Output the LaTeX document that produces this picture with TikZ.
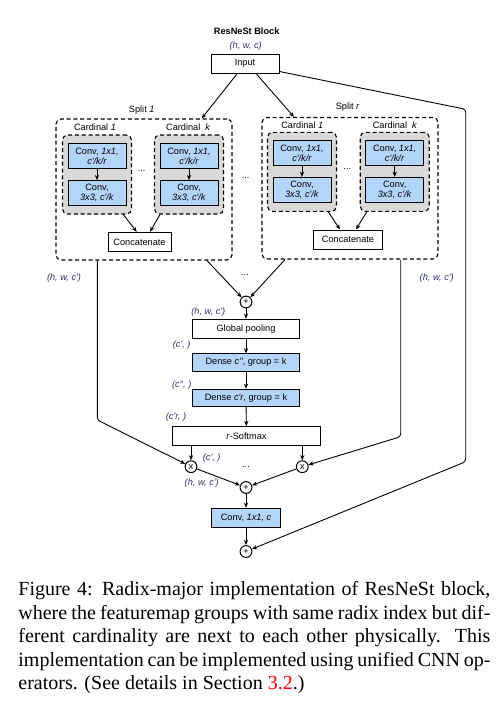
\documentclass[tikz,border=0pt]{standalone}
\usepackage{fontspec}
\setmainfont{Liberation Serif}
\newfontfamily\diagfont{Liberation Sans}
\usetikzlibrary{arrows.meta,calc}
\definecolor{convblue}{HTML}{B4D5FA}
\definecolor{cardgray}{HTML}{D9D9D9}
\definecolor{dimblue}{HTML}{283374}
\definecolor{refred}{HTML}{FF0000}
\newcommand\dgmfont{\diagfont\fontsize{4.6}{5}\selectfont}

\begin{document}
\begin{tikzpicture}[x=0.5pt,y=-0.5pt,
  every node/.style={font=\dgmfont, inner sep=0pt},
  opbox/.style={draw, line width=0.5pt, fill=white, align=center},
  convbox/.style={opbox, fill=convblue},
  cardbox/.style={draw, line width=0.55pt, dash pattern=on 2pt off 1.4pt,
                  fill=cardgray, rounded corners=2.5pt},
  splitbox/.style={draw, line width=0.55pt, dash pattern=on 2pt off 1.4pt,
                   rounded corners=2.5pt},
  opcirc/.style={circle, draw, line width=0.5pt, minimum size=5.9pt, fill=white},
  dimlabel/.style={text=dimblue, font=\dgmfont\itshape},
  link/.style={line width=0.45pt, -{Stealth[length=2.6pt,width=2.1pt]}},
  wire/.style={line width=0.45pt, rounded corners=1.5pt},
]
\fill[white] (0,0) rectangle (501,702);
\useasboundingbox (0,0) rectangle (501,702);

% ---------- title and input ----------
\node[font=\dgmfont\bfseries] (title) at (246.7,31) {ResNeSt Block};
\node[dimlabel] (inshape) at (245.7,46) {(h, w, c)};
\node[opbox, minimum width=34pt, minimum height=9.5pt] (input) at (245,63.5) {Input};

% ---------- split 1 ----------
\node[splitbox, minimum width=88pt, minimum height=70.5pt] (split1) at (144,189.5) {};
\node (split1lbl) at (141.7,110) {Split \textit{1}};
\node (c1Llbl) at (95,127.7) {Cardinal \textit{1}};
\node (ckLlbl) at (188.3,127.7) {Cardinal\ \ \textit{k}};
\node[cardbox, minimum width=34.5pt, minimum height=39.5pt] (c1L) at (97,174.5) {};
\node[cardbox, minimum width=34.5pt, minimum height=39.5pt] (ckL) at (189,174.5) {};
\node[convbox, minimum width=29pt, minimum height=12.6pt] (a1L) at (97,156.3) {Conv, \textit{1x1,}\\\textit{c'/k/r}};
\node[convbox, minimum width=29pt, minimum height=12.6pt] (b1L) at (97,193.3) {Conv,\\\textit{3x3, c'/k}};
\node[convbox, minimum width=29pt, minimum height=12.6pt] (akL) at (189,156.3) {Conv, \textit{1x1,}\\\textit{c'/k/r}};
\node[convbox, minimum width=29pt, minimum height=12.6pt] (bkL) at (189,193.3) {Conv,\\\textit{3x3, c'/k}};
\node (dotsL) at (141.7,171) {...};
\node[opbox, minimum width=31.5pt, minimum height=9.7pt] (concatL) at (139.5,242) {Concatenate};

% ---------- split r ----------
\node[splitbox, minimum width=88pt, minimum height=70.75pt] (splitR) at (350,188.25) {};
\node (splitRlbl) at (347.7,107.3) {Split \textit{r}};
\node (c1Rlbl) at (302.3,125) {Cardinal \textit{1}};
\node (ckRlbl) at (395,125) {Cardinal\ \ \textit{k}};
\node[cardbox, minimum width=34.5pt, minimum height=39.5pt] (c1R) at (302,171.8) {};
\node[cardbox, minimum width=34.5pt, minimum height=39.5pt] (ckR) at (394.7,171.8) {};
\node[convbox, minimum width=29pt, minimum height=12.6pt] (a1R) at (302,153.3) {Conv, \textit{1x1,}\\\textit{c'/k/r}};
\node[convbox, minimum width=29pt, minimum height=12.6pt] (b1R) at (302,190) {Conv,\\\textit{3x3, c'/k}};
\node[convbox, minimum width=29pt, minimum height=12.6pt] (akR) at (394.7,153.3) {Conv, \textit{1x1,}\\\textit{c'/k/r}};
\node[convbox, minimum width=29pt, minimum height=12.6pt] (bkR) at (394.7,190) {Conv,\\\textit{3x3, c'/k}};
\node (dotsR) at (347.3,169) {...};
\node[opbox, minimum width=34.7pt, minimum height=9.7pt] (concatR) at (348,239.7) {Concatenate};

\node (dotsSplit) at (245.7,178) {...};

% ---------- attention path ----------
\node[opcirc] (plus1) at (246,302) {+};
\node (dotsSum) at (245,275) {...};
\node[dimlabel] (shpL) at (64,277.7) {(h, w, c')};
\node[dimlabel] (shpR) at (436.7,278.3) {(h, w, c')};
\node[dimlabel] (shpPool) at (208.3,311.7) {(h, w, c')};
\node[opbox, minimum width=53.5pt, minimum height=9.5pt] (pool) at (246,328.8) {Global pooling};
\node[dimlabel] (shpD1) at (181.7,345) {(c', )};
\node[convbox, minimum width=53.5pt, minimum height=8.6pt] (dense1) at (246,362.5) {Dense \textit{c''}, group = k};
\node[dimlabel] (shpD2) at (181.7,385) {(c'', )};
\node[convbox, minimum width=53.5pt, minimum height=8.7pt] (dense2) at (246,398) {Dense \textit{c'r}, group = k};
\node[dimlabel] (shpSm) at (176,417.5) {(c'r, )};
\node[opbox, minimum width=74.2pt, minimum height=9.65pt] (softmax) at (246.5,436.3) {\textit{r}-Softmax};
\node[opcirc] (xl) at (191,466.7) {x};
\node[opcirc] (xr) at (302.3,466.7) {x};
\node[dimlabel] (shpAtt) at (211.7,458.3) {(c', )};
\node (dotsMul) at (246,466.7) {...};
\node[opcirc] (plus2) at (246,487.5) {+};
\node[dimlabel] (shpOut) at (201.7,482.7) {(h, w, c')};
\node[convbox, minimum width=34.2pt, minimum height=9.7pt] (convout) at (246,518) {Conv, \textit{1x1, c}};
\node[opcirc] (plus3) at (246,551.5) {+};

% ---------- connectors ----------
\draw[link] ($(input.south)+(-7.7,0)$) -- ($(split1.north)+(57.7,0)$);
\draw[link] ($(input.south)+(11,0)$) -- ($(splitR.north)+(-56,0)$);

\foreach \a/\b in {a1L/b1L, akL/bkL, a1R/b1R, akR/bkR}
  \draw[link] (\a) -- (\b);

\draw[link] ($(c1L.south)+(26.3,0)$) -- ($(concatL.north)+(-2.8,0)$);
\draw[link] ($(ckL.south)+(-29,0)$) -- ($(concatL.north)+(10.5,0)$);
\draw[link] ($(c1R.south)+(26.3,0)$) -- ($(concatR.north)+(-8,0)$);
\draw[link] ($(ckR.south)+(-28,0)$) -- ($(concatR.north)+(8,0)$);

\draw[link] ($(split1.south)+(63,0)$) -- (plus1);
\draw[link] ($(splitR.south)+(-65,0)$) -- (plus1);

\draw[link] (plus1) -- (pool);
\draw[link] (pool) -- (dense1);
\draw[link] (dense1) -- (dense2);
\draw[link] (dense2) -- (softmax);
\draw[link] (softmax.south -| xl) -- (xl);
\draw[link] (softmax.south -| xr) -- (xr);

\coordinate (dropL) at (97.3,420);
\coordinate (dropR) at (400.7,436.7);
\draw[wire, link] ($(split1.south)+(-46.7,0)$) -- (dropL) -- (xl);
\draw[wire, link] ($(splitR.south)+(50.7,0)$) -- (dropR) -- (xr);

\draw[link] (xl) -- (plus2);
\draw[link] (xr) -- (plus2);
\draw[link] (plus2) -- (convout);
\draw[link] (convout) -- (plus3);

\coordinate (skipTop) at (465.7,109.3);
\coordinate (skipBot) at (465.7,461.7);
\draw[wire, link] ($(input.east)+(0,8)$) -- (skipTop) -- (skipBot) -- (plus3);

% ---------- caption ----------
\node[anchor=base west] (caption) at (18,595.7) {\parbox[t]{236pt}{\rmfamily\fontsize{10}{11.75}\selectfont
Figure 4: Radix-major implementation of ResNeSt block,\linebreak
where the featuremap groups with same radix index but dif-\linebreak
ferent cardinality are next to each other physically.  This\linebreak
implementation can be implemented using unified CNN op-\linebreak
erators. (See details in Section \textcolor{refred}{3.2}.)}};
\end{tikzpicture}
\end{document}
